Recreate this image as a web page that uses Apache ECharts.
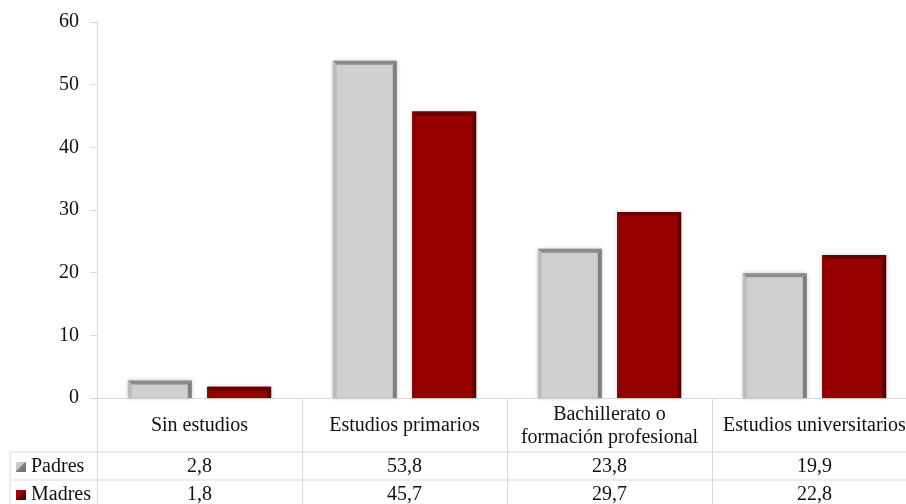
<!DOCTYPE html>
<html>
<head>
<meta charset="utf-8">
<script src="https://cdn.jsdelivr.net/npm/echarts@6/dist/echarts.min.js"></script>
<style>
  html, body { margin: 0; padding: 0; background: #fff; }
  #chart { width: 906px; height: 504px; }
</style>
</head>
<body>
<div id="chart"></div>
<script>
// Nivel de estudios de padres y madres (%)
const categories = ['Sin estudios', 'Estudios primarios', 'Bachillerato o\nformación profesional', 'Estudios universitarios'];
const padres = [2.8, 53.8, 23.8, 19.9];
const madres = [1.8, 45.7, 29.7, 22.8];
const yTicks = [0, 10, 20, 30, 40, 50, 60];

const FONT = 'Liberation Serif';
const FS = 20;
const TEXT = '#111111';
const LINE = '#d9d9d9';

const fmt = v => v.toFixed(1).replace('.', ',');

// Bar palettes: face, top bevel, left bevel, right bevel
const styles = [
  { face: '#d0cece', top: '#8c8c8c', left: '#bdbcbc', right: '#7f7f7f' },
  { face: '#960000', top: '#680000', left: '#8c0000', right: '#560000' }
];

function bevelBar(seriesIdx) {
  return function (params, api) {
    const cat = api.value(0);
    const val = api.value(1);
    const base = api.coord([cat, 0]);
    const top = api.coord([cat, val]);
    const band = api.size([1, 0])[0];
    const w = band * 0.312;
    const gap = band * 0.075;
    const cx = base[0] + (seriesIdx === 0 ? -(w + gap) / 2 : (w + gap) / 2);
    const x0 = cx - w / 2, x1 = cx + w / 2;
    const y0 = top[1], y1 = base[1];
    const b = Math.min(4, (y1 - y0) / 2);
    const s = styles[seriesIdx];
    return {
      type: 'group',
      children: [
        { type: 'rect', shape: { x: x0, y: y0, width: w, height: y1 - y0 },
          style: { fill: s.face, shadowBlur: 4, shadowColor: 'rgba(0,0,0,0.22)', shadowOffsetX: 0, shadowOffsetY: 0 } },
        { type: 'polygon', shape: { points: [[x0, y0], [x0 + b, y0 + b], [x0 + b, y1], [x0, y1]] },
          style: { fill: s.left } },
        { type: 'polygon', shape: { points: [[x1, y0], [x1, y1], [x1 - b, y1], [x1 - b, y0 + b]] },
          style: { fill: s.right } },
        { type: 'polygon', shape: { points: [[x0, y0], [x1, y0], [x1 - b, y0 + b], [x0 + b, y0 + b]] },
          style: { fill: s.top } }
      ]
    };
  };
}

const chart = echarts.init(document.getElementById('chart'), null, { renderer: 'canvas' });

const legendCommon = {
  orient: 'vertical',
  left: 16,
  padding: 0,
  itemWidth: 10,
  itemHeight: 10,
  itemGap: 0,
  icon: 'rect',
  textStyle: { fontFamily: FONT, fontSize: FS, color: TEXT, padding: [0, 0, 0, 0] }
};

const padresIcon = new echarts.graphic.LinearGradient(0, 0, 1, 1, [
  { offset: 0, color: '#d8d8d8' }, { offset: 0.5, color: '#bfbfbf' }, { offset: 0.5, color: '#808080' }, { offset: 1, color: '#6e6e6e' }]);
const madresIcon = new echarts.graphic.LinearGradient(0, 0, 1, 1, [
  { offset: 0, color: '#b00000' }, { offset: 0.5, color: '#960000' }, { offset: 0.5, color: '#600000' }, { offset: 1, color: '#4a0000' }]);

const option = {
  animation: false,
  backgroundColor: '#ffffff',
  textStyle: { fontFamily: FONT },
  grid: { left: 97, width: 820, top: 22, bottom: 106, containLabel: false, outerBoundsMode: 'none' },
  legend: [
    Object.assign({}, legendCommon, { top: 457, data: [{ name: 'Padres', itemStyle: { color: padresIcon } }] }),
    Object.assign({}, legendCommon, { top: 485, data: [{ name: 'Madres', itemStyle: { color: madresIcon } }] })
  ],
  xAxis: [
    {
      type: 'category',
      data: categories,
      boundaryGap: true,
      axisLine: { show: true, lineStyle: { color: LINE, width: 1 } },
      axisTick: { show: true, length: 110, lineStyle: { color: LINE, width: 1 } },
      axisLabel: { fontFamily: FONT, fontSize: FS, color: TEXT, margin: 28, verticalAlign: 'middle', lineHeight: 23, interval: 0 }
    },
    {
      type: 'category',
      data: padres.map(fmt),
      position: 'bottom',
      offset: 69,
      axisLine: { show: false },
      axisTick: { show: false },
      axisLabel: { fontFamily: FONT, fontSize: FS, color: TEXT, margin: 0, verticalAlign: 'middle', interval: 0 }
    },
    {
      type: 'category',
      data: madres.map(fmt),
      position: 'bottom',
      offset: 97,
      axisLine: { show: false },
      axisTick: { show: false },
      axisLabel: { fontFamily: FONT, fontSize: FS, color: TEXT, margin: 0, verticalAlign: 'middle', interval: 0 }
    }
  ],
  yAxis: {
    type: 'value',
    min: yTicks[0],
    max: yTicks[yTicks.length - 1],
    interval: 10,
    axisLine: { show: true, lineStyle: { color: LINE, width: 1 } },
    axisTick: { show: true, length: 7, lineStyle: { color: LINE } },
    splitLine: { show: false },
    axisLabel: { fontFamily: FONT, fontSize: FS, color: TEXT, margin: 18 }
  },
  series: [
    {
      name: 'Padres',
      type: 'custom',
      itemStyle: { color: '#bfbfbf' },
      renderItem: bevelBar(0),
      encode: { x: 0, y: 1 },
      data: padres.map((v, i) => [i, v])
    },
    {
      name: 'Madres',
      type: 'custom',
      itemStyle: { color: '#960000' },
      renderItem: bevelBar(1),
      encode: { x: 0, y: 1 },
      data: madres.map((v, i) => [i, v])
    }
  ]
};

chart.setOption(option);

// Data table rules below the category row
const axisY = chart.convertToPixel({ yAxisIndex: 0 }, 0);
const row1 = axisY + 54;
const row2 = row1 + 28;
chart.setOption({
  graphic: [
    { type: 'line', shape: { x1: 10, y1: row1, x2: 906, y2: row1 }, style: { stroke: LINE, lineWidth: 1 }, silent: true },
    { type: 'line', shape: { x1: 10, y1: row2, x2: 906, y2: row2 }, style: { stroke: LINE, lineWidth: 1 }, silent: true },
    { type: 'line', shape: { x1: 10, y1: row1, x2: 10, y2: 504 }, style: { stroke: LINE, lineWidth: 1 }, silent: true }
  ]
});
</script>
</body>
</html>
